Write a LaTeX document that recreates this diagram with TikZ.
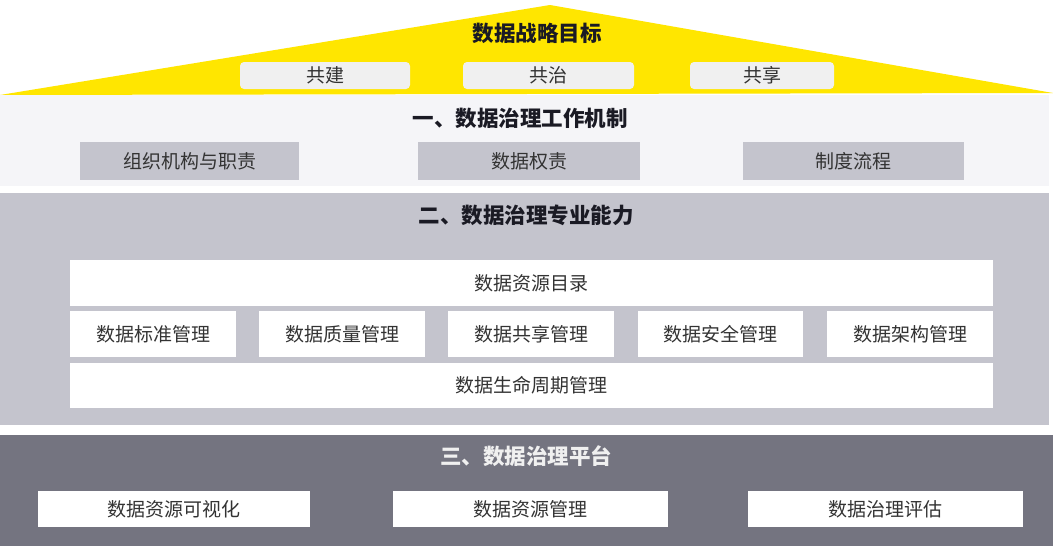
\documentclass[tikz,border=0pt]{standalone}
\usepackage{fontspec}
\setmainfont{Noto Sans CJK SC}
\usepackage{xcolor}
\usepackage{tikz}
\usetikzlibrary{positioning}

\definecolor{goalyellow}{HTML}{FFE600}
\definecolor{pillgray}{HTML}{F0F0F0}
\definecolor{bandlight}{HTML}{F5F5F8}
\definecolor{bandmid}{HTML}{C4C4CD}
\definecolor{banddark}{HTML}{747480}
\definecolor{textdark}{HTML}{333333}
\definecolor{titledark}{HTML}{1A1A24}

\begin{document}
\begin{tikzpicture}[x=1pt,y=-1pt]
					\tikzset{band/.style={inner sep=0pt, draw=none}}
					\tikzset{pill/.style={inner sep=0pt, fill=pillgray, rounded corners=4pt, text=textdark, font=\fontsize{19}{20}\selectfont}}
					\tikzset{graybox/.style={inner sep=0pt, fill=bandmid, text=textdark, font=\fontsize{19}{20}\selectfont}}
					\tikzset{whitebox/.style={inner sep=0pt, fill=white, text=textdark, font=\fontsize{19}{20}\selectfont}}
					\tikzset{title/.style={text=titledark, font=\bfseries\fontsize{21.5}{24}\selectfont}}

					\useasboundingbox (0,0) rectangle (1053,546);
					\fill[white] (0,0) rectangle (1053,546);

					% Roof
					\fill[goalyellow] (0,95) -- (550,5) -- (1053,93) -- cycle;
					\node[title] (goal) at (537,33) {数据战略目标};
					\node[pill, minimum width=170pt, minimum height=27pt] (cobuild) at (325,75.5) {共建};
					\node[pill, minimum width=171pt, minimum height=27pt] (cogovern) at (548.5,75.5) {共治};
					\node[pill, minimum width=144pt, minimum height=27pt] (coshare) at (762,75.5) {共享};

					% Layer 1
					\node[band, fill=bandlight, minimum width=1049pt, minimum height=91pt] (mech) at (524.5,140.5) {};
					\node[title] (mechtitle) at (520,118) {一、数据治理工作机制};
					\node[graybox, minimum width=219pt, minimum height=38pt] (org) at (189.5,161) {组织机构与职责};
					\node[graybox, minimum width=222pt, minimum height=38pt] (rights) at (529,161) {数据权责};
					\node[graybox, minimum width=221pt, minimum height=38pt] (process) at (853.5,161) {制度流程};

					% Layer 2
					\node[band, fill=bandmid, minimum width=1049pt, minimum height=232pt] (skill) at (524.5,309) {};
					\node[title] (skilltitle) at (526,215) {二、数据治理专业能力};
					\node[whitebox, minimum width=923pt, minimum height=46pt] (catalog) at (531.5,283) {数据资源目录};
					\node[whitebox, minimum width=166pt, minimum height=46pt] (standard) at (153,334) {数据标准管理};
					\node[whitebox, minimum width=166pt, minimum height=46pt] (quality) at (342,334) {数据质量管理};
					\node[whitebox, minimum width=166pt, minimum height=46pt] (sharing) at (531,334) {数据共享管理};
					\node[whitebox, minimum width=165pt, minimum height=46pt] (security) at (720.5,334) {数据安全管理};
					\node[whitebox, minimum width=166pt, minimum height=46pt] (architecture) at (910,334) {数据架构管理};
					\node[whitebox, minimum width=923pt, minimum height=45pt] (lifecycle) at (531.5,385.5) {数据生命周期管理};

					% Layer 3
					\node[band, fill=banddark, minimum width=1053pt, minimum height=111pt] (platform) at (526.5,490.5) {};
					\node[title, text=white!94!black] (platformtitle) at (526,456) {三、数据治理平台};
					\node[whitebox, minimum width=272pt, minimum height=36pt] (visual) at (174,509) {数据资源可视化};
					\node[whitebox, minimum width=275pt, minimum height=36pt] (resource) at (530.5,509) {数据资源管理};
					\node[whitebox, minimum width=275pt, minimum height=36pt] (assess) at (885.5,509) {数据治理评估};

				\end{tikzpicture}
\end{document}
